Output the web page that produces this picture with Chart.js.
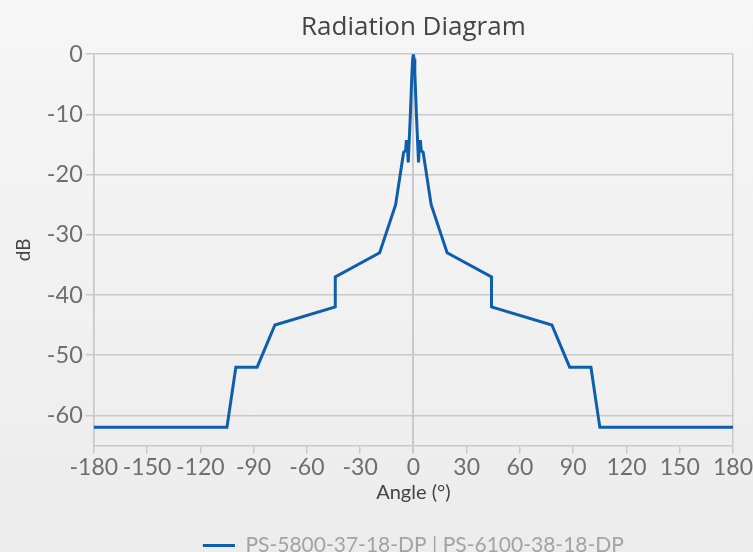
<!DOCTYPE html>
<html>
<head>
<meta charset="utf-8">
<script src="https://cdn.jsdelivr.net/npm/chart.js@4"></script>
<style>
  html, body { margin: 0; padding: 0; }
  body { background: linear-gradient(#f6f6f6, #ececec); width: 753px; height: 552px; overflow: hidden; }
  #wrap { width: 753px; height: 552px; position: relative; }
</style>
</head>
<body>
<div id="wrap"><canvas id="chart"></canvas></div>
<script>
// radiation pattern
const angles = [-180, -105, -100, -88, -78, -44, -44, -19, -10, -5.5, -4.4, -4, -3.5, -2.9, -1.7, -0.8, -0.4, 0,
                0.4, 0.8, 1.7, 2.9, 3.5, 4, 4.4, 5.5, 10, 19, 44, 44, 78, 88, 100, 105, 180];
const gainDb = [-62, -62, -52, -52, -45, -42, -37, -33, -25, -16.3, -16, -14.5, -14.5, -18, -10, -3, -0.8, 0,
                -0.8, -3, -10, -18, -14.5, -14.5, -16, -16.3, -25, -33, -37, -42, -45, -52, -52, -62, -62];
const xTicks = [-180, -150, -120, -90, -60, -30, 0, 30, 60, 90, 120, 150, 180];
const yTicks = [0, -10, -20, -30, -40, -50, -60];
const seriesName = 'PS-5800-37-18-DP | PS-6100-38-18-DP';

const points = angles.map((a, i) => ({x: a, y: gainDb[i]}));
const gridGrey = '#c9c9c9';

// keep title and legend centred over the plot, legend nearer the bottom edge
const centerOnPlot = {
    id: 'centerOnPlot',
    afterLayout(chart) {
        const mid = (chart.chartArea.left + chart.chartArea.right) / 2;
        [chart.titleBlock, chart.legend].forEach(box => {
            if (!box) return;
            const dx = mid - (box.left + box.right) / 2;
            box.left += dx;
            box.right += dx;
        });
        chart.legend.top += 14;
        chart.legend.bottom += 14;
    }
};

const ctx = document.getElementById('chart').getContext('2d');
const chart = new Chart(ctx, {
    type: 'line',
    data: {
        datasets: [
            {
                label: seriesName,
                data: points,
                borderColor: '#0e5eab',
                backgroundColor: '#0e5eab',
                borderWidth: 3,
                pointRadius: 0,
                tension: 0,
                fill: false,
            },
        ]},
    options:
    {
        responsive: true,
        maintainAspectRatio: false,
        animation: false,
        layout: { padding: { left: 2, right: -6, top: 0, bottom: 0 } },
        plugins:
        {
            legend:
            {
                position: 'bottom',
                labels:
                {
                    usePointStyle: true,
                    pointStyle: 'line',
                    pointStyleWidth: 32,
                    padding: 0,
                    color: '#a3a3a3',
                    font: { family: 'Lato', size: 21 },
                }
            },
            title:
            {
                display: true,
                text: 'Radiation Diagram',
                color: '#444',
                font: { family: 'Open Sans', size: 26, weight: 'normal' },
                padding: { top: 12, bottom: 11 },
            },
            tooltip: { enabled: false },
        },
        scales:
        {
            x:
            {
                type: 'linear',
                min: -180,
                max: 180,
                afterBuildTicks: axis => { axis.ticks = xTicks.map(v => ({value: v})); },
                grid:
                {
                    color: c => (c.tick && [-180, 0, 180].includes(c.tick.value)) ? gridGrey : 'rgba(0,0,0,0)',
                    tickColor: gridGrey,
                    lineWidth: c => (c.tick && c.tick.value === 0) ? 2 : 1.5,
                    tickLength: 8,
                },
                border: { color: gridGrey, width: 1.5 },
                ticks: { color: '#6e6e6e', font: { family: 'Lato', size: 23 }, padding: 0, maxRotation: 0, autoSkip: false },
                title:
                {
                    display: true,
                    text: 'Angle (°)',
                    color: '#444',
                    font: { family: 'Lato', size: 20 },
                    padding: { top: 0, bottom: 16 },
                }
            },
            y:
            {
                type: 'linear',
                min: -65,
                max: 0,
                afterBuildTicks: axis => { axis.ticks = yTicks.map(v => ({value: v})); },
                grid: { color: gridGrey, tickColor: gridGrey, lineWidth: 1.5, tickLength: 8 },
                border: { color: gridGrey, width: 1.5 },
                ticks: { color: '#6e6e6e', font: { family: 'Lato', size: 23.5 }, padding: 3 },
                title:
                {
                    display: true,
                    text: 'dB',
                    color: '#444',
                    font: { family: 'Lato', size: 19 },
                    padding: { top: 10, bottom: 9 },
                }
            },
        },
    },
    plugins: [centerOnPlot]
});
</script>
</body>
</html>
